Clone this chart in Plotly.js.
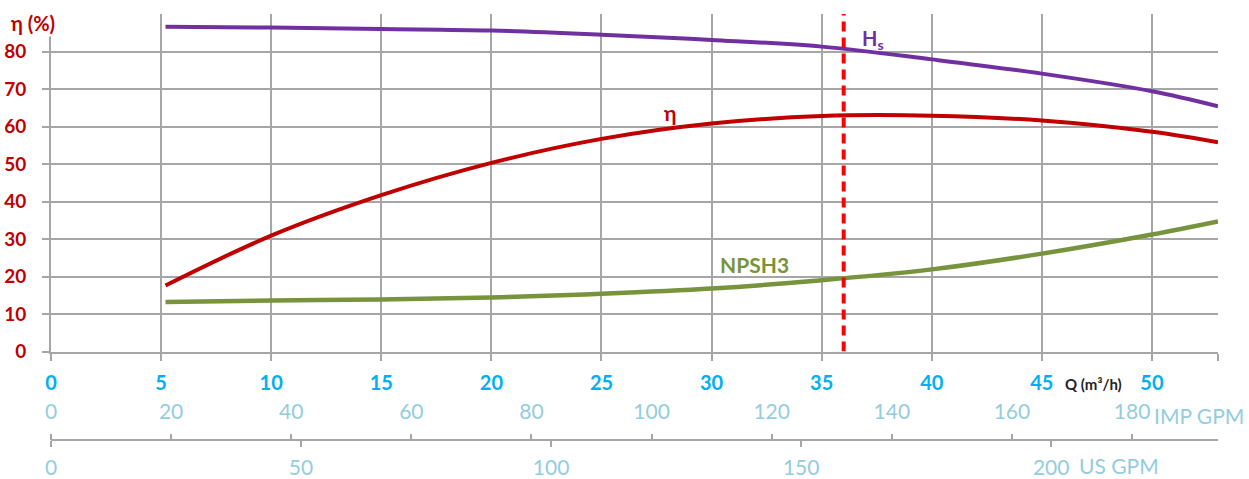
<!DOCTYPE html>
<html>
<head>
<meta charset="utf-8">
<script src="https://cdn.plot.ly/plotly-3.0.1.min.js"></script>
<style>html,body{margin:0;padding:0;background:#fff;}#chart{width:1249px;height:479px;}</style>
</head>
<body>
<div id="chart"></div>
<script>
// ---- data ----
const flowQ   = [5.2, 10, 15, 20, 25, 30, 35, 40, 45, 50, 53];          // m3/h
const headHs  = [86.6, 86.4, 86.0, 85.6, 84.5, 83.1, 81.3, 77.9, 74.1, 69.4, 65.4];
const effEta  = [17.6, 30.9, 41.7, 50.3, 56.7, 60.8, 62.8, 62.9, 61.6, 58.6, 55.8];
const npsh3   = [13.2, 13.6, 13.9, 14.4, 15.4, 16.8, 19.0, 21.9, 26.1, 31.2, 34.7];
const dutyQ   = 36;                                                       // dashed operating line
const qTicks  = [0, 5, 10, 15, 20, 25, 30, 35, 40, 45, 50];
const yTicks  = [0, 10, 20, 30, 40, 50, 60, 70, 80];
const impTicks = [0, 20, 40, 60, 80, 100, 120, 140, 160, 180];
const usTicks  = [0, 50, 100, 150, 200];
const qMax = 53, yMax = 90;
const IMP_PER_M3H = 3.6662, US_PER_M3H = 4.4029;

const FONT = 'Lato, "Open Sans", sans-serif';
const GRID = '#a6a6a6';

const traces = [
  {x: flowQ, y: headHs, mode: 'lines', line: {color: '#7030a0', width: 4, shape: 'spline'}, hoverinfo: 'skip', showlegend: false},
  {x: flowQ, y: effEta, mode: 'lines', line: {color: '#c00000', width: 4, shape: 'spline'}, hoverinfo: 'skip', showlegend: false},
  {x: flowQ, y: npsh3,  mode: 'lines', line: {color: '#77933c', width: 4.5, shape: 'spline'}, hoverinfo: 'skip', showlegend: false},
  {x: [], y: [], xaxis: 'x2', yaxis: 'y', mode: 'lines', showlegend: false, hoverinfo: 'skip'},
  {x: [], y: [], xaxis: 'x3', yaxis: 'y', mode: 'lines', showlegend: false, hoverinfo: 'skip'}
];

const xMain = qTicks.concat([qMax]);
const yAll = yTicks.concat([yMax]);

const layout = {
  width: 1249, height: 479,
  margin: {l: 51, r: 31, t: 14, b: 5},
  paper_bgcolor: '#fff', plot_bgcolor: '#fff',
  font: {family: FONT},
  showlegend: false,
  xaxis: {
    range: [0, qMax], tickmode: 'array', tickvals: xMain,
    ticktext: qTicks.map(String).concat(['']),
    showgrid: true, gridcolor: GRID, gridwidth: 2,
    showline: true, linecolor: GRID, linewidth: 2,
    ticks: 'outside', ticklen: 7, tickcolor: GRID, tickwidth: 2,
    zeroline: false, fixedrange: true,
    tickfont: {family: FONT, size: 20, color: '#00b0f0', weight: 'bold'},
    ticklabelstandoff: 5
  },
  yaxis: {
    domain: [0.2663, 1], range: [0, yMax], tickmode: 'array', tickvals: yAll,
    ticktext: yTicks.map(String).concat(['']),
    showgrid: true, gridcolor: GRID, gridwidth: 2,
    showline: true, linecolor: GRID, linewidth: 2,
    ticks: 'outside', ticklen: 7, tickcolor: GRID, tickwidth: 2,
    zeroline: false, fixedrange: true,
    tickfont: {family: FONT, size: 19, color: '#c00000', weight: 'bold'},
    ticklabelstandoff: 12
  },
  xaxis2: {
    overlaying: 'x', anchor: 'free', position: 0.0739, side: 'top',
    range: [0, qMax * IMP_PER_M3H], tickmode: 'array', tickvals: impTicks,
    showgrid: false, showline: false, zeroline: false,
    ticks: 'outside', ticklen: 6, tickcolor: GRID, tickwidth: 2,
    tickfont: {family: FONT, size: 21, color: '#93cddd'},
    ticklabelstandoff: 7, fixedrange: true
  },
  xaxis3: {
    overlaying: 'x', anchor: 'free', position: 0.0739, side: 'bottom',
    range: [0, qMax * US_PER_M3H], tickmode: 'array', tickvals: usTicks,
    showgrid: false, showline: true, linecolor: GRID, linewidth: 2, zeroline: false,
    ticks: 'outside', ticklen: 6, tickcolor: GRID, tickwidth: 2,
    tickfont: {family: FONT, size: 21, color: '#93cddd'},
    ticklabelstandoff: 3, fixedrange: true
  },
  shapes: [
    {type: 'line', xref: 'x', yref: 'y', x0: dutyQ, x1: dutyQ, y0: 0, y1: yMax,
     line: {color: '#ff0000', width: 4, dash: '10px,6px'}}
  ],
  annotations: [
    {xref: 'paper', yref: 'paper', x: -0.0154, y: 0.9804, text: '<b>η (%)</b>', showarrow: false,
     font: {family: FONT, size: 20, color: '#c00000'}, bgcolor: '#fff', xanchor: 'center', yanchor: 'middle'},
    {xref: 'x', yref: 'y', x: 37.35, y: 83.1, text: '<b>H<sub>s</sub></b>', showarrow: false,
     font: {family: FONT, size: 20, color: '#7030a0'}, xanchor: 'center', yanchor: 'middle'},
    {xref: 'x', yref: 'y', x: 28.13, y: 63.7, text: '<b>η</b>', showarrow: false,
     font: {family: FONT, size: 21, color: '#c00000'}, xanchor: 'center', yanchor: 'middle'},
    {xref: 'x', yref: 'y', x: 31.94, y: 23.25, text: '<b>NPSH3</b>', showarrow: false,
     font: {family: FONT, size: 21, color: '#77933c'}, xanchor: 'center', yanchor: 'middle'},
    {xref: 'paper', yref: 'paper', x: 0.893, y: 0.1957, text: '<b>Q (m³/h)</b>', showarrow: false,
     font: {family: FONT, size: 15, color: '#222'}, xanchor: 'center', yanchor: 'middle'},
    {xref: 'paper', yref: 'paper', x: 0.9837, y: 0.128, text: 'IMP GPM', showarrow: false,
     font: {family: FONT, size: 21, color: '#93cddd'}, xanchor: 'center', yanchor: 'middle'},
    {xref: 'paper', yref: 'paper', x: 0.915, y: 0.0174, text: 'US GPM', showarrow: false,
     font: {family: FONT, size: 21, color: '#93cddd'}, xanchor: 'center', yanchor: 'middle'}
  ]
};

Plotly.newPlot('chart', traces, layout, {staticPlot: true, displayModeBar: false});
</script>
</body>
</html>
